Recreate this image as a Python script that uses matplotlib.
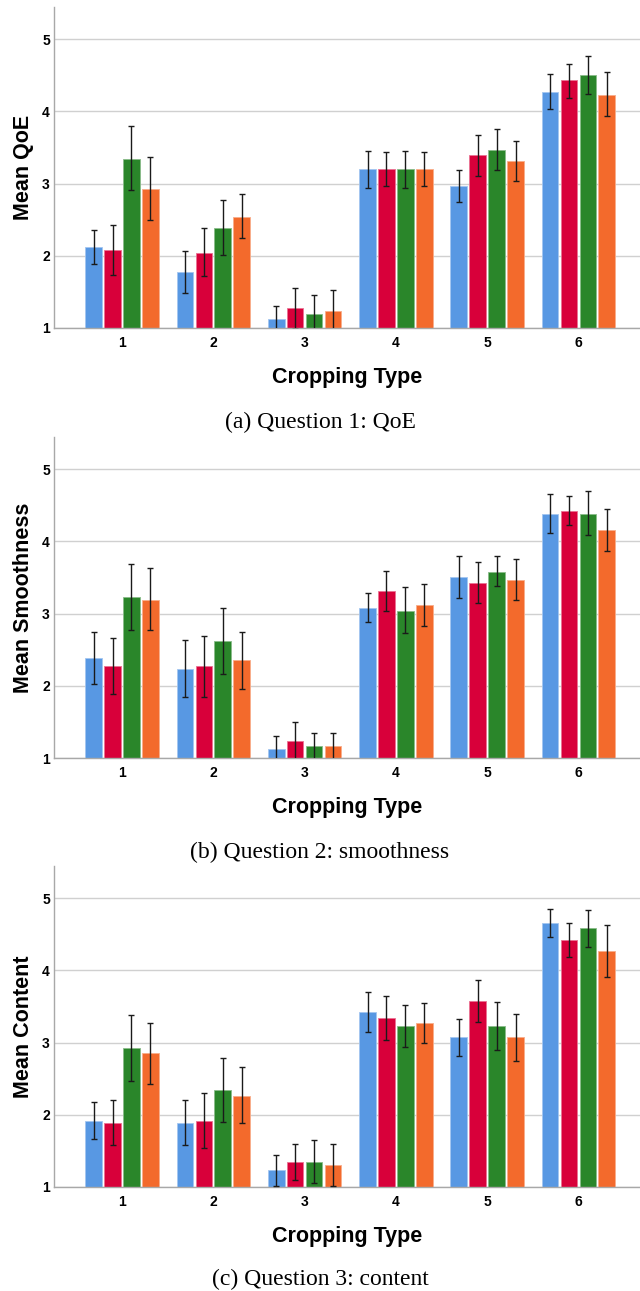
import matplotlib
matplotlib.use('Agg')
import matplotlib.pyplot as plt
import matplotlib.colors as mcolors
import numpy as np

# Cropping types on the x axis
crop_types = ['1', '2', '3', '4', '5', '6']

# Bar colours, one per condition
bar_colors = ['#5898E3', '#D8003A', '#2A862A', '#F36A2C']

# Question 1: QoE, means and 95% CI bounds per condition (rows) and cropping type (cols)
qoe_mean = [[2.12, 1.77, 1.12, 3.20, 2.97, 4.27],
            [2.08, 2.04, 1.27, 3.20, 3.39, 4.43],
            [3.34, 2.39, 1.20, 3.20, 3.46, 4.50],
            [2.92, 2.54, 1.23, 3.20, 3.31, 4.23]]
qoe_low = [[1.88, 1.49, 0.94, 2.94, 2.75, 4.03],
           [1.74, 1.72, 0.99, 2.97, 3.11, 4.19],
           [2.91, 2.01, 0.95, 2.94, 3.18, 4.24],
           [2.49, 2.24, 0.94, 2.97, 3.04, 3.93]]
qoe_high = [[2.36, 2.06, 1.30, 3.45, 3.18, 4.52],
            [2.42, 2.38, 1.55, 3.43, 3.67, 4.66],
            [3.79, 2.77, 1.45, 3.45, 3.75, 4.77],
            [3.37, 2.85, 1.53, 3.43, 3.59, 4.55]]

# Question 2: smoothness
smooth_mean = [[2.39, 2.23, 1.12, 3.08, 3.50, 4.38],
               [2.27, 2.27, 1.23, 3.31, 3.42, 4.42],
               [3.23, 2.62, 1.16, 3.04, 3.58, 4.38],
               [3.19, 2.35, 1.16, 3.12, 3.46, 4.16]]
smooth_low = [[2.02, 1.84, 0.94, 2.88, 3.22, 4.12],
              [1.89, 1.85, 0.96, 3.04, 3.14, 4.22],
              [2.77, 2.16, 0.97, 2.73, 3.38, 4.08],
              [2.77, 1.96, 0.97, 2.83, 3.18, 3.86]]
smooth_high = [[2.75, 2.64, 1.30, 3.28, 3.79, 4.65],
               [2.66, 2.69, 1.50, 3.59, 3.71, 4.63],
               [3.69, 3.08, 1.35, 3.36, 3.79, 4.70],
               [3.63, 2.75, 1.35, 3.41, 3.75, 4.45]]

# Question 3: content
content_mean = [[1.92, 1.88, 1.23, 3.42, 3.08, 4.65],
                [1.88, 1.92, 1.35, 3.34, 3.57, 4.42],
                [2.92, 2.34, 1.35, 3.23, 3.23, 4.58],
                [2.85, 2.26, 1.31, 3.27, 3.08, 4.27]]
content_low = [[1.67, 1.58, 1.02, 3.14, 2.82, 4.46],
               [1.58, 1.54, 1.09, 3.04, 3.29, 4.18],
               [2.47, 1.90, 1.05, 2.94, 2.90, 4.32],
               [2.42, 1.88, 1.01, 3.00, 2.75, 3.91]]
content_high = [[2.18, 2.20, 1.44, 3.70, 3.33, 4.85],
                [2.20, 2.30, 1.60, 3.65, 3.86, 4.66],
                [3.38, 2.79, 1.65, 3.52, 3.56, 4.84],
                [3.27, 2.66, 1.60, 3.54, 3.40, 4.62]]

panels = [
    ('Mean QoE', '(a) Question 1: QoE', qoe_mean, qoe_low, qoe_high),
    ('Mean Smoothness', '(b) Question 2: smoothness', smooth_mean, smooth_low, smooth_high),
    ('Mean Content', '(c) Question 3: content', content_mean, content_low, content_high),
]

W, H = 640, 1291
fig = plt.figure(figsize=(W / 100, H / 100), dpi=100)

# pixel rows (top, bottom) of each plot area and caption centre
rows = [(7, 328, 422), (437, 758, 852), (866, 1187, 1279)]
left_px = 54

x = np.arange(1, len(crop_types) + 1)
pitch = 0.207
width = 0.183

for (ylab, caption, mean, low, high), (top, bot, cap_y) in zip(panels, rows):
    ax = fig.add_axes([left_px / W, 1 - bot / H, 1 - left_px / W, (bot - top) / H])
    for i in range(4):
        m = np.array(mean[i])
        lo = m - np.array(low[i])
        hi = np.array(high[i]) - m
        xs = x + (i - 1.5) * pitch
        edge = mcolors.to_rgb(bar_colors[i])
        edge = tuple(c + (1 - c) * 0.45 for c in edge)
        ax.bar(xs, m - 1, bottom=1, width=width, color=bar_colors[i],
               edgecolor=edge, linewidth=0.6, zorder=2)
        ax.errorbar(xs, m, yerr=[lo, hi], fmt='none', ecolor='#1a1a1a',
                    elinewidth=1.0, capsize=2, capthick=1.0, zorder=3)

    ax.set_xlim(0.255, 6.674)
    ax.set_ylim(1, 5.443)
    ax.set_yticks([1, 2, 3, 4, 5])
    ax.set_xticks(x)
    ax.set_xticklabels(crop_types)
    ax.yaxis.grid(True, color='#d0d0d0', linewidth=1.0, zorder=0)
    ax.set_axisbelow(True)
    for s in ['top', 'right']:
        ax.spines[s].set_visible(False)
    for s in ['left', 'bottom']:
        ax.spines[s].set_color('#a8a8a8')
        ax.spines[s].set_linewidth(1.0)
    ax.tick_params(axis='y', length=0, pad=3)
    ax.tick_params(axis='x', length=0, pad=6)
    for lab in ax.get_xticklabels() + ax.get_yticklabels():
        lab.set_fontfamily('Liberation Sans')
        lab.set_fontweight('bold')
        lab.set_fontsize(10)
    ax.set_ylabel(ylab, fontfamily='Liberation Sans', fontweight='bold',
                  fontsize=15.5, labelpad=6)
    ax.set_xlabel('Cropping Type', fontfamily='Liberation Sans', fontweight='bold',
                  fontsize=15.5, labelpad=12)

    fig.text(0.5, 1 - cap_y / H, caption, ha='center', va='center',
             fontfamily='Liberation Serif', fontsize=17)

fig.savefig('out.png', dpi=100)
